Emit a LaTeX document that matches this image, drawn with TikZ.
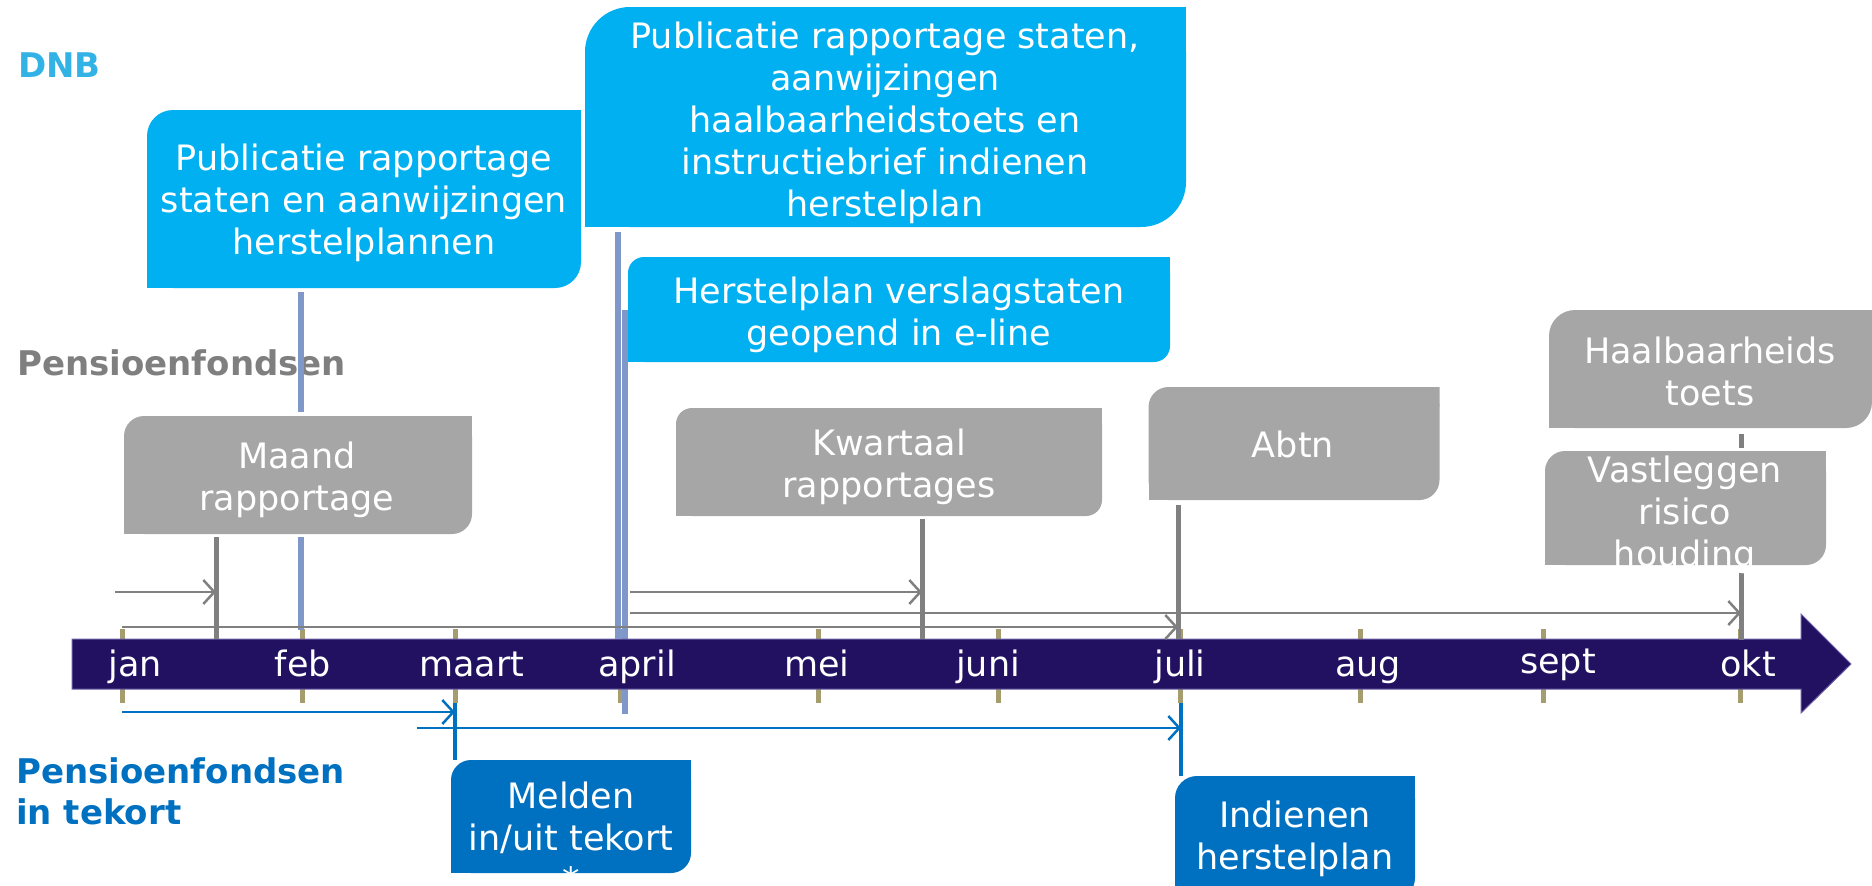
\documentclass[tikz,border=0pt]{standalone}
\usepackage{fontspec}
\setmainfont{DejaVu Sans}
\usetikzlibrary{arrows.meta}
\definecolor{dnbblue}{HTML}{33B2E6}
\definecolor{cyanbox}{HTML}{00B0F0}
\definecolor{graybox}{HTML}{A6A6A6}
\definecolor{graytext}{HTML}{7F7F7F}
\definecolor{tekort}{HTML}{0070C0}
\definecolor{barcol}{HTML}{211160}
\definecolor{barline}{HTML}{6D5FA6}
\definecolor{tickcol}{HTML}{A69D6E}
\definecolor{steel}{HTML}{7F98C9}
\definecolor{marker}{HTML}{808080}
\tikzset{
  rbox/.style n args={2}{draw=none, inner sep=0pt, outer sep=0pt,
    path picture={
      \fill[#1, rounded corners=#2] (path picture bounding box.north west) rectangle (path picture bounding box.south east);
      \fill[#1] ([xshift=-#2,yshift=-#2]path picture bounding box.north east) rectangle (path picture bounding box.north east);
      \fill[#1] (path picture bounding box.south west) rectangle ([xshift=#2,yshift=#2]path picture bounding box.south west);
    }},
  btxt/.style={text=white, align=center, inner sep=0pt, anchor=north, font=\fontsize{35}{42}\selectfont},
  mlab/.style={text=white, inner sep=0pt, anchor=base, font=\fontsize{35}{42}\selectfont},
  seclab/.style={inner sep=0pt, font=\fontsize{34}{41}\selectfont\bfseries, align=left},
  steelline/.style={draw=steel, line width=6pt},
  markline/.style={draw=marker, line width=5pt},
  tekline/.style={draw=tekort, line width=4.5pt},
  tickmark/.style={draw=tickcol, line width=5pt},
  garrow/.style={draw=marker, line width=2.5pt, -{Straight Barb[length=11pt,width=24pt,line width=2.5pt]}},
  barrow/.style={draw=tekort, line width=2.5pt, -{Straight Barb[length=11pt,width=24pt,line width=2.5pt]}},
}
\begin{document}
\begin{tikzpicture}[x=1pt,y=-1pt]
\useasboundingbox (0,0) rectangle (1872,886);

% coordinates
\coordinate (f1) at (301,630);
\coordinate (m1) at (216,639);
\coordinate (m2) at (922,639);
\coordinate (m3) at (1178,639);
\coordinate (m4) at (1741,640);
\coordinate (aL) at (618,639);
\coordinate (aR) at (625,714);
\coordinate (bm) at (455,703);
\coordinate (bj) at (1181,703);
\coordinate (s1) at (115,592);
\coordinate (s2) at (122,627);
\coordinate (s3) at (630,592);
\coordinate (s4) at (630,613);
\coordinate (t1) at (122,712);
\coordinate (t2) at (417,728);

% month ticks
\foreach \mx in {122,302,455,620,818,998,1180,1360,1543,1740}
  \draw[tickmark] (\mx,629) -- (\mx,703);

% section labels
\node[seclab, text=dnbblue, anchor=base west] (dnb) at (18,77) {DNB};
\node[seclab, text=graytext, anchor=base west] (pf) at (17,375) {Pensioenfondsen};
\node[seclab, text=tekort, anchor=north west] (pft) at (16,757) {Pensioenfondsen\\in tekort};

% boxes (shapes)
\node[rbox={cyanbox}{26pt}, minimum width=434pt, minimum height=178pt] (pub1) at (364,199) {};
\node[rbox={cyanbox}{45pt}, minimum width=601pt, minimum height=220pt] (pub2) at (885.5,117) {};
\node[rbox={graybox}{20pt}, minimum width=348pt, minimum height=118pt] (maand) at (298,475) {};
\node[rbox={graybox}{16pt}, minimum width=426pt, minimum height=108pt] (kwart) at (889,462) {};
\node[rbox={graybox}{20pt}, minimum width=291pt, minimum height=113pt] (abtn) at (1294,443.5) {};
\node[rbox={graybox}{26pt}, minimum width=323pt, minimum height=118pt] (haal) at (1710.5,369) {};
\node[rbox={graybox}{20pt}, minimum width=281pt, minimum height=114pt] (vast) at (1685.5,508) {};
\node[rbox={tekort}{20pt}, minimum width=240pt, minimum height=113pt] (melden) at (571,816.5) {};
\node[rbox={tekort}{22pt}, minimum width=240pt, minimum height=124pt] (indien) at (1295,838) {};

% april line behind bar and box
\coordinate (hw) at (628,310);
\draw[steelline] (hw -| aR) -- (aR);
\node[rbox={cyanbox}{16pt}, minimum width=542pt, minimum height=105pt] (herst) at (899,309.5) {};

% timeline bar
\fill[barcol, draw=barline, line width=1pt] (72,639) -- (1801,639) -- (1801,614) -- (1851,664) -- (1801,713) -- (1801,689) -- (72,689) -- cycle;

% month labels
\node[mlab] (ljan) at (135,676) {jan};
\node[mlab] (lfeb) at (303,676) {feb};
\node[mlab] (lmaart) at (472,676) {maart};
\node[mlab] (lapril) at (637,676) {april};
\node[mlab] (lmei) at (817,676) {mei};
\node[mlab] (ljuni) at (988,676) {juni};
\node[mlab] (ljuli) at (1180,676) {juli};
\node[mlab] (laug) at (1368,676) {aug};
\node[mlab] (lsept) at (1558,673) {sept};
\node[mlab] (lokt) at (1748,676) {okt};

% steel lines
\draw[steelline, shorten <=4pt, shorten >=4pt] (pub1.south -| f1) -- (maand.north -| f1);
\draw[steelline, shorten <=3pt] (maand.south -| f1) -- (f1);
\draw[steelline, shorten <=5pt] (pub2.south -| aL) -- (aL);

% gray markers
\draw[markline, shorten <=3pt] (maand.south -| m1) -- (m1);
\draw[markline, shorten <=3pt] (kwart.south -| m2) -- (m2);
\draw[markline, shorten <=5pt] (abtn.south -| m3) -- (m3);
\draw[markline, shorten <=6pt] (vast.south -| m4) -- (m4);
\draw[markline, shorten <=6pt, shorten >=3pt] (haal.south -| m4) -- (vast.north -| m4);

% gray arrows
\draw[garrow] (s1) -- (s1 -| m1);
\draw[garrow] (s2) -- (s2 -| m3);
\draw[garrow] (s3) -- (s3 -| m2);
\draw[garrow] (s4) -- (s4 -| m4);

% blue arrows and lines
\draw[barrow] (t1) -- (t1 -| bm);
\draw[tekline] (bm) -- (melden.north -| bm);
\draw[barrow] (t2) -- (t2 -| bj);
\draw[tekline] (bj) -- (indien.north -| bj);

% box texts
\node[btxt] (pub1t) at (364,144) {Publicatie rapportage\\staten en aanwijzingen\\herstelplannen};
\node[btxt] (pub2t) at (885,22) {Publicatie rapportage staten,\\aanwijzingen\\haalbaarheidstoets en\\instructiebrief indienen\\herstelplan};
\node[btxt] (herstt) at (899,277) {Herstelplan verslagstaten\\geopend in e-line};
\node[btxt] (maandt) at (297,442) {Maand\\rapportage};
\node[btxt] (kwartt) at (889,429) {Kwartaal\\rapportages};
\node[btxt] (abtnt) at (1293,431) {Abtn};
\node[btxt] (haalt) at (1710,337) {Haalbaarheids\\toets};
\node[btxt] (vastt) at (1685,456) {Vastleggen\\risico\\houding};
\node[btxt] (meldent) at (571,782) {Melden\\in/uit tekort\\*};
\node[btxt] (indient) at (1295,801) {Indienen\\herstelplan};
\end{tikzpicture}
\end{document}
